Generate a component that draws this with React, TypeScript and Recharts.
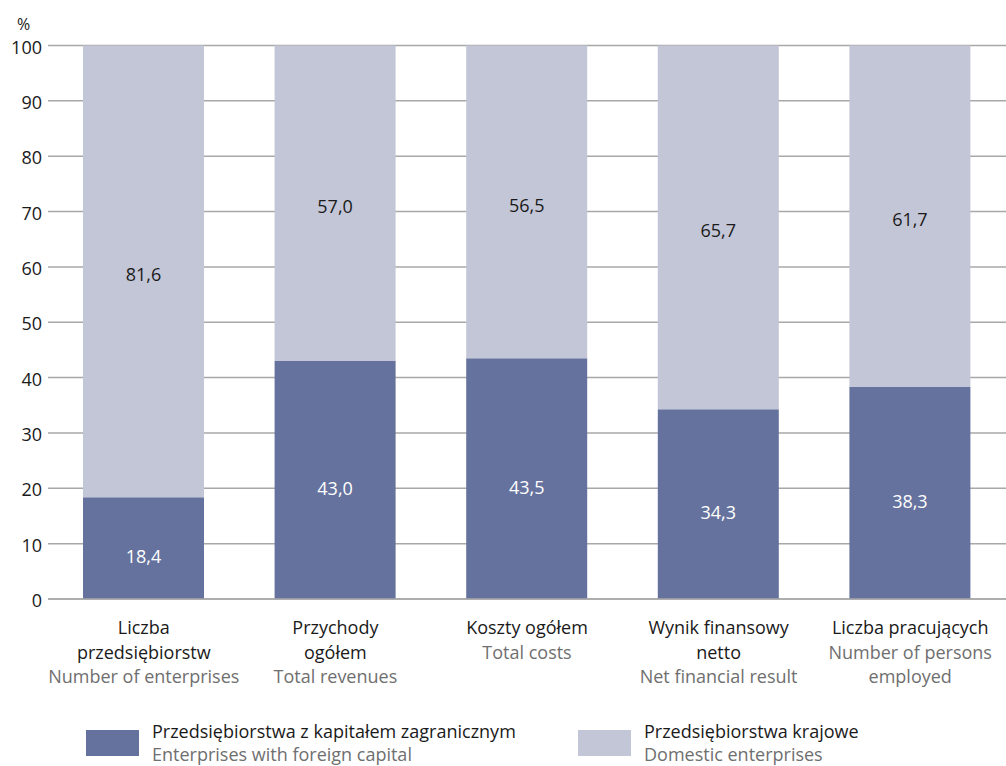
import { BarChart, Bar, XAxis, YAxis, CartesianGrid, LabelList } from "recharts"

const categories = ["liczba", "przychody", "koszty", "wynik", "pracujacy"]
const namesPl = [
  ["Liczba", "przedsiębiorstw"],
  ["Przychody", "ogółem"],
  ["Koszty ogółem"],
  ["Wynik finansowy", "netto"],
  ["Liczba pracujących"],
]
const namesEn = [
  ["Number of enterprises"],
  ["Total revenues"],
  ["Total costs"],
  ["Net financial result"],
  ["Number of persons", "employed"],
]
const foreign = [18.4, 43.0, 43.5, 34.3, 38.3]
const domestic = [81.6, 57.0, 56.5, 65.7, 61.7]
const yTicks = [0, 10, 20, 30, 40, 50, 60, 70, 80, 90, 100]

const seriesPl = ["Przedsiębiorstwa z kapitałem zagranicznym", "Przedsiębiorstwa krajowe"]
const seriesEn = ["Enterprises with foreign capital", "Domestic enterprises"]

const DARK = "#65729d"
const LIGHT = "#c3c6d6"
const GRID = "#a8a8a8"
const TEXT = "#1a1a1a"
const GREY = "#6f6f6f"
const FONT = "'Open Sans', sans-serif"

const data = categories.map((c, i) => ({ cat: c, foreign: foreign[i], domestic: domestic[i] }))

const fmt = (v: number) => v.toFixed(1).replace(".", ",")

function XTick(props: any) {
  const { x, y, payload } = props
  const i = categories.indexOf(payload.value)
  const lines = [
    ...namesPl[i].map((t) => ({ t, c: TEXT })),
    ...namesEn[i].map((t) => ({ t, c: GREY })),
  ]
  return (
    <g>
      {lines.map((l, k) => (
        <text
          key={k}
          x={x}
          y={y + 28 + k * 24.5}
          textAnchor="middle"
          dominantBaseline="central"
          fontSize={18}
          fontFamily={FONT}
          fill={l.c}
        >
          {l.t}
        </text>
      ))}
    </g>
  )
}

function YTick(props: any) {
  const { y, payload } = props
  return (
    <text x={42} y={y + 1} textAnchor="end" dominantBaseline="central" fontSize={18} fontFamily={FONT} fill={TEXT}>
      {payload.value}
    </text>
  )
}

const makeLabel = (color: string, shift: number) => (props: any) => {
  const { x, y, width, height, value } = props
  return (
    <text
      x={x + width / 2}
      y={y + height / 2 + shift}
      textAnchor="middle"
      dominantBaseline="central"
      fontSize={18}
      fontFamily={FONT}
      fill={color}
    >
      {fmt(value)}
    </text>
  )
}

export default function App() {
  return (
    <div style={{ position: "absolute", left: 0, top: 0, width: 1006, height: 766, fontFamily: FONT }}>
      <BarChart
        width={1006}
        height={766}
        data={data}
        margin={{ top: 45.5, right: 0, left: 0, bottom: 107 }}
        barSize={121}
      >
        <CartesianGrid vertical={false} stroke={GRID} strokeWidth={1.5} />
        <XAxis
          dataKey="cat"
          height={60}
          tickLine={false}
          tickSize={0}
          tickMargin={0}
          axisLine={{ stroke: GRID, strokeWidth: 1.5 }}
          tick={<XTick />}
          interval={0}
        />
        <YAxis
          width={48}
          domain={[0, 100]}
          ticks={yTicks}
          axisLine={false}
          tickLine={false}
          tick={<YTick />}
          interval={0}
        />
        <Bar dataKey="foreign" stackId="a" fill={DARK} isAnimationActive={false}>
          <LabelList dataKey="foreign" content={makeLabel("#ffffff", 8)} />
        </Bar>
        <Bar dataKey="domestic" stackId="a" fill={LIGHT} isAnimationActive={false}>
          <LabelList dataKey="domestic" content={makeLabel(TEXT, 3)} />
        </Bar>
      </BarChart>
      <div style={{ position: "absolute", left: 17, top: 13, fontSize: 16, color: TEXT }}>%</div>
      {[DARK, LIGHT].map((c, i) => {
        const left = i === 0 ? 86 : 578
        return (
          <div key={i}>
            <div style={{ position: "absolute", left, top: 730, width: 53, height: 26, background: c }} />
            <div
              style={{
                position: "absolute",
                left: left + 66,
                top: 720,
                fontSize: 18,
                lineHeight: "23px",
                whiteSpace: "nowrap",
              }}
            >
              <div style={{ color: TEXT }}>{seriesPl[i]}</div>
              <div style={{ color: GREY }}>{seriesEn[i]}</div>
            </div>
          </div>
        )
      })}
    </div>
  )
}
